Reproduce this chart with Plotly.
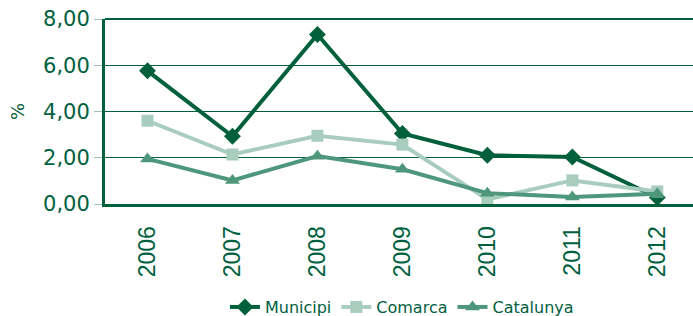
import plotly.graph_objects as go

years = ["2006", "2007", "2008", "2009", "2010", "2011", "2012"]
municipi = [5.76, 2.93, 7.33, 3.05, 2.11, 2.03, 0.28]
comarca = [3.60, 2.14, 2.95, 2.57, 0.20, 1.02, 0.54]
catalunya = [1.95, 1.02, 2.07, 1.50, 0.47, 0.30, 0.44]

dark = "#00603c"
txt = "#006040"

fig = go.Figure()
fig.add_trace(go.Scatter(x=years, y=comarca, name="Comarca", mode="lines+markers",
                         line=dict(color="#a8cdbf", width=4),
                         marker=dict(symbol="square", size=12, color="#a8cdbf")))
fig.add_trace(go.Scatter(x=years, y=catalunya, name="Catalunya", mode="lines+markers",
                         line=dict(color="#4e977c", width=4),
                         marker=dict(symbol="triangle-up", size=13, color="#4e977c")))
fig.add_trace(go.Scatter(x=years, y=municipi, name="Municipi", mode="lines+markers",
                         line=dict(color=dark, width=4),
                         marker=dict(symbol="diamond", size=13, color=dark)))
fig.data = (fig.data[2], fig.data[0], fig.data[1])

fig.update_layout(
    width=693, height=316,
    margin=dict(l=105, r=0, t=19, b=112, autoexpand=False),
    paper_bgcolor="white", plot_bgcolor="white",
    separators=",.",
    font=dict(family="DejaVu Sans", color=txt),
    showlegend=True,
    legend=dict(orientation="h", x=0.505, xanchor="center", y=-0.557, yanchor="middle",
                font=dict(size=16, family="DejaVu Sans", color=txt),
                traceorder="normal", itemwidth=30, tracegroupgap=0,
                bgcolor="rgba(0,0,0,0)"),
)
fig.update_xaxes(type="category", range=[-0.5, 6.42], showgrid=False, automargin=False,
                 showline=True, linecolor=dark, linewidth=3,
                 tickangle=-90, tickfont=dict(size=23, family="Liberation Sans", color=txt),
                 ticks="", ticklabelstandoff=10)
fig.update_yaxes(range=[0, 8], dtick=2, tickformat=".2f", automargin=False,
                 showgrid=True, gridcolor=dark, gridwidth=1,
                 showline=True, linecolor=dark, linewidth=3,
                 ticks="outside", ticklen=8, tickcolor="#9cc4b4", tickwidth=1,
                 tickfont=dict(size=21, family="DejaVu Sans", color=txt),
                 title=dict(text="%", font=dict(size=18, color=txt), standoff=14),
                 zeroline=False)
fig.add_shape(type="line", xref="paper", yref="paper", x0=0, x1=1, y0=1, y1=1,
              line=dict(color=dark, width=2))

fig.write_html("out.html", config={"displayModeBar": False},
               post_script="document.body.style.margin='0';")
